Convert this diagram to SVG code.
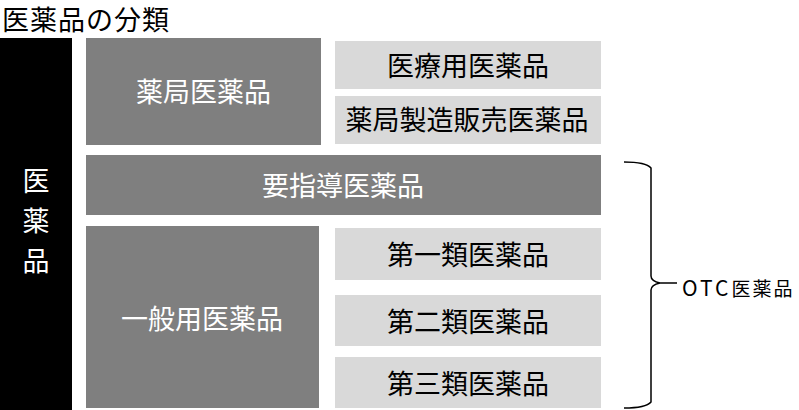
<svg xmlns="http://www.w3.org/2000/svg" width="799" height="410" viewBox="0 0 799 410">
<style>
text{font-family:"Noto Sans CJK JP","Noto Sans",sans-serif;}
.dark{fill:#7f7f7f;}
.light{fill:#d9d9d9;}
.wt{fill:#ffffff;font-size:27px;text-anchor:middle;dominant-baseline:central;}
.bt{fill:#000000;font-size:27px;text-anchor:middle;dominant-baseline:central;}
</style>
<rect width="799" height="410" fill="#ffffff"/>
<g id="title"><text x="2" y="18" font-size="27" letter-spacing="1" dominant-baseline="central" fill="#000">医薬品の分類</text></g>
<g id="iyakuhin">
<rect x="0" y="38" width="72" height="372" fill="#000"/>
<text x="36" y="179" class="wt" font-size="28">医</text>
<text x="36" y="219" class="wt" font-size="28">薬</text>
<text x="36" y="259" class="wt" font-size="28">品</text>
</g>
<g id="yakkyoku">
<rect class="dark" x="86" y="38" width="235" height="107"/>
<text class="wt" x="203.5" y="90">薬局医薬品</text>
</g>
<g id="iryouyou">
<rect class="light" x="335" y="41" width="266" height="48"/>
<text class="bt" x="468" y="64">医療用医薬品</text>
</g>
<g id="yakkyokuseizou">
<rect class="light" x="335" y="96" width="266" height="48"/>
<text class="bt" x="467" y="118" font-size="24">薬局製造販売医薬品</text>
</g>
<g id="youshidou">
<rect class="dark" x="86" y="155" width="515" height="60"/>
<text class="wt" x="343" y="184">要指導医薬品</text>
</g>
<g id="ippanyou">
<rect class="dark" x="86" y="226" width="233" height="182"/>
<text class="wt" x="202" y="317">一般用医薬品</text>
</g>
<g id="dai1">
<rect class="light" x="335" y="228" width="266" height="52"/>
<text class="bt" x="468" y="253">第一類医薬品</text>
</g>
<g id="dai2">
<rect class="light" x="335" y="295" width="266" height="51"/>
<text class="bt" x="468" y="320">第二類医薬品</text>
</g>
<g id="dai3">
<rect class="light" x="335" y="357" width="266" height="51"/>
<text class="bt" x="468" y="382">第三類医薬品</text>
</g>
<g id="connectors" fill="none" stroke="#000" stroke-width="1.5">
<path d="M624 162 Q646 162 651 168 L651 276 Q651 281 660 283 L677 283 M660 283 Q651 285 651 290 L651 402 Q646 408 624 408"/>
</g>
<g id="otc"><text x="682" y="287" font-size="19" dominant-baseline="central" fill="#000"><tspan font-size="21" letter-spacing="3">OTC</tspan><tspan letter-spacing="2">医薬品</tspan></text></g>
</svg>
